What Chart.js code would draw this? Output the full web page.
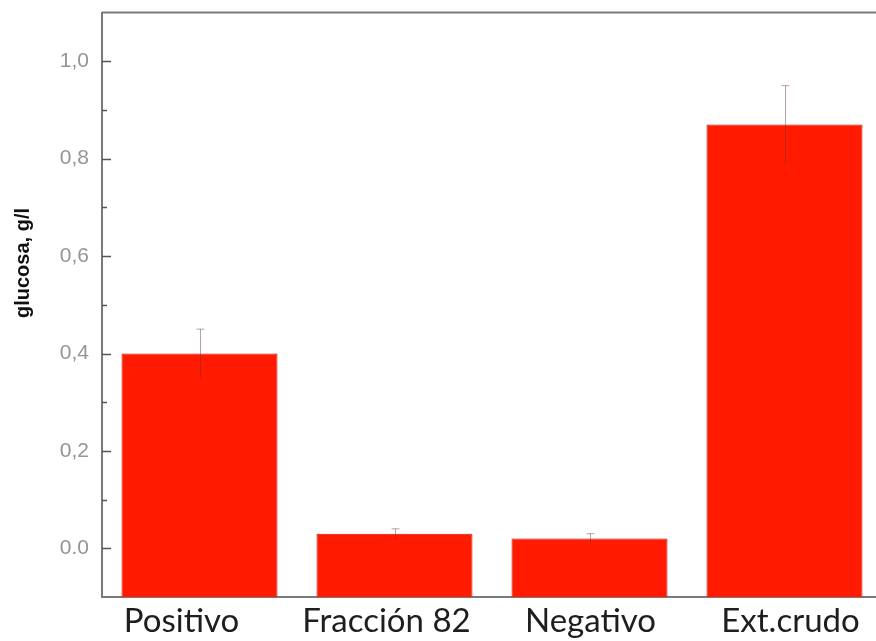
<!DOCTYPE html>
<html>
<head>
<meta charset="utf-8">
<script src="https://cdn.jsdelivr.net/npm/chart.js@4/dist/chart.umd.min.js"></script>
<style>
  html, body { margin: 0; padding: 0; background: #fff; overflow: hidden; }
  #wrap { width: 876px; height: 641px; overflow: hidden; position: relative; }
  #box { width: 890px; height: 654px; position: absolute; left: 0; top: -13px; }
</style>
</head>
<body>
<div id="wrap"><div id="box"><canvas id="c"></canvas></div></div>
<script>
// Glucose released per sample (g/l), with standard deviation
const categories = ['Positivo', 'Fracción 82', 'Negativo', 'Ext.crudo'];
const glucosa = [0.40, 0.03, 0.02, 0.87];
const desviacion = [0.05, 0.01, 0.01, 0.08];
const yTickValues = [0.0, 0.2, 0.4, 0.6, 0.8, 1.0];
const yTickLabels = ['0.0', '0,2', '0,4', '0,6', '0,8', '1,0'];
const yMinorValues = [0.1, 0.3, 0.5, 0.7, 0.9];
const yTitle = 'glucosa, g/l';

const AXIS_MIN = -0.1, AXIS_MAX = 1.1;
// horizontal nudge (px) of each category caption relative to its bar
const captionShift = [-18, -8, 1, 6];

// Inward tick marks, top frame line, captions, axis title and error bars
const decorations = {
  id: 'decorations',
  afterDatasetsDraw(chart) {
    const ctx = chart.ctx;
    const y = chart.scales.y;
    const area = chart.chartArea;
    ctx.save();
    // frame line along the top
    ctx.strokeStyle = '#7a7a7a';
    ctx.lineWidth = 2;
    ctx.beginPath();
    ctx.moveTo(area.left, area.top);
    ctx.lineTo(chart.width, area.top);
    ctx.stroke();
    // tick marks pointing into the plot
    ctx.strokeStyle = '#555';
    ctx.lineWidth = 1.5;
    yTickValues.forEach(v => {
      const py = Math.round(y.getPixelForValue(v)) + 0.5;
      ctx.beginPath(); ctx.moveTo(area.left, py); ctx.lineTo(area.left + 9, py); ctx.stroke();
    });
    yMinorValues.forEach(v => {
      const py = Math.round(y.getPixelForValue(v)) + 0.5;
      ctx.beginPath(); ctx.moveTo(area.left, py); ctx.lineTo(area.left + 5, py); ctx.stroke();
    });
    // error bars: stem with a cap on the upper end
    const meta = chart.getDatasetMeta(0);
    meta.data.forEach((bar, i) => {
      const x = Math.round(bar.x) + 0.5;
      const top = y.getPixelForValue(glucosa[i] + desviacion[i]);
      const bot = y.getPixelForValue(glucosa[i] - desviacion[i]);
      ctx.strokeStyle = 'rgba(100,50,50,0.45)';
      ctx.lineWidth = 1;
      ctx.beginPath(); ctx.moveTo(x, top); ctx.lineTo(x, bot); ctx.stroke();
      ctx.beginPath(); ctx.moveTo(x - 4, top); ctx.lineTo(x + 4, top); ctx.stroke();
    });
    // category captions under the axis
    ctx.fillStyle = '#1e1e1e';
    ctx.font = '33px Lato, "Open Sans", sans-serif';
    ctx.textAlign = 'center';
    ctx.textBaseline = 'alphabetic';
    meta.data.forEach((bar, i) => {
      ctx.fillText(categories[i], bar.x + captionShift[i], area.bottom + 35);
    });
    // vertical axis title
    ctx.translate(23, 276);
    ctx.rotate(-Math.PI / 2);
    ctx.fillStyle = '#111';
    ctx.font = 'bold 20px "Liberation Sans", Arial, sans-serif';
    ctx.textAlign = 'center';
    ctx.textBaseline = 'middle';
    ctx.fillText(yTitle, 0, 0);
    ctx.restore();
  }
};

new Chart(document.getElementById('c'), {
  type: 'bar',
  data: {
    labels: categories,
    datasets: [{
      data: glucosa,
      base: AXIS_MIN,
      backgroundColor: '#ff1a00',
      borderColor: '#c81400',
      borderWidth: 1,
      categoryPercentage: 0.8,
      barPercentage: 1.0
    }]
  },
  options: {
    responsive: true,
    maintainAspectRatio: false,
    animation: false,
    layout: { padding: { left: 0, right: 8, top: 3, bottom: 0 } },
    plugins: { legend: { display: false }, tooltip: { enabled: false } },
    scales: {
      x: {
        grid: { display: false, drawTicks: false },
        border: { display: true, color: '#7a7a7a', width: 2 },
        ticks: { display: false },
        afterFit(scale) { scale.height = 44; }
      },
      y: {
        min: AXIS_MIN,
        max: AXIS_MAX,
        grid: { display: false, drawTicks: false },
        border: { display: true, color: '#7a7a7a', width: 2 },
        afterBuildTicks(scale) { scale.ticks = yTickValues.map(v => ({ value: v })); },
        ticks: {
          color: '#959595',
          font: { family: 'Liberation Sans', size: 21 },
          padding: 13,
          callback(value, index) { return yTickLabels[index]; }
        },
        afterFit(scale) { scale.width = 102; }
      }
    }
  },
  plugins: [decorations]
});
</script>
</body>
</html>
